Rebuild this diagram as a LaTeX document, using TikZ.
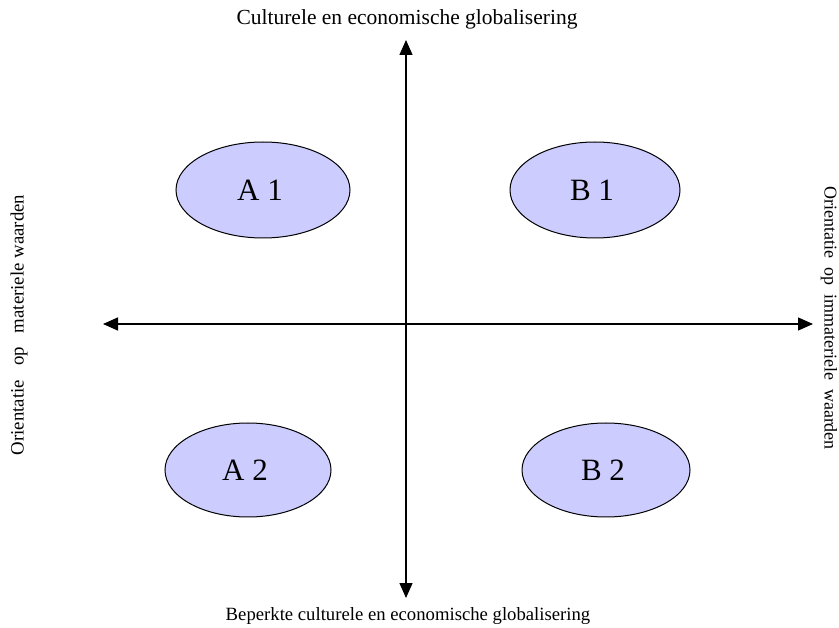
\documentclass[tikz,border=0pt]{standalone}
\usepackage{fontspec}
\setmainfont{Liberation Serif}
\usetikzlibrary{arrows.meta,shapes.geometric}
\definecolor{lav}{RGB}{204,204,255}
\tikzset{
  axis/.style={line width=1.4pt,{Triangle[width=13pt,length=15pt]}-{Triangle[width=13pt,length=15pt]}},
  blob/.style={ellipse,draw=black,line width=1pt,fill=lav,inner sep=0pt},
  blobtext/.style={inner sep=0pt,anchor=base,font=\fontsize{31}{34}\selectfont},
  lbl/.style={inner sep=0pt}
}
\begin{document}
\begin{tikzpicture}[x=1pt,y=-1pt]
\useasboundingbox[fill=white] (0,0) rectangle (839,628);
\coordinate (top) at (406,40);
\coordinate (bot) at (406,598);
\coordinate (lft) at (103,324);
\coordinate (rgt) at (813,324);
\draw[axis] (bot) -- (top);
\draw[axis] (lft) -- (rgt);
\node[blob,minimum width=174pt,minimum height=96pt] (a1) at (263,190) {};
\node[blob,minimum width=170pt,minimum height=96pt] (b1) at (595,190) {};
\node[blob,minimum width=166pt,minimum height=94pt] (a2) at (248,470) {};
\node[blob,minimum width=168pt,minimum height=94pt] (b2) at (606,470) {};
\node[blobtext] (a1t) at (260,201) {A 1};
\node[blobtext] (b1t) at (592,201) {B 1};
\node[blobtext] (a2t) at (245,481) {A 2};
\node[blobtext] (b2t) at (603,481) {B 2};
\node[lbl,anchor=base,font=\fontsize{21.5}{24}\selectfont] (t) at (407,25) {Culturele en economische globalisering};
\node[lbl,anchor=base,font=\fontsize{18.7}{22}\selectfont] (b) at (408,620) {Beperkte culturele en economische globalisering};
\node[lbl,rotate=90,font=\fontsize{18.8}{22}\selectfont] (l) at (19,325) {Orientatie\ \ \ op\ \ \ materiele waarden};
\node[lbl,rotate=-90,font=\fontsize{18}{22}\selectfont] (r) at (829,318) {Orientatie\ \ op\ \ immateriele\ \ waarden};
\end{tikzpicture}
\end{document}
